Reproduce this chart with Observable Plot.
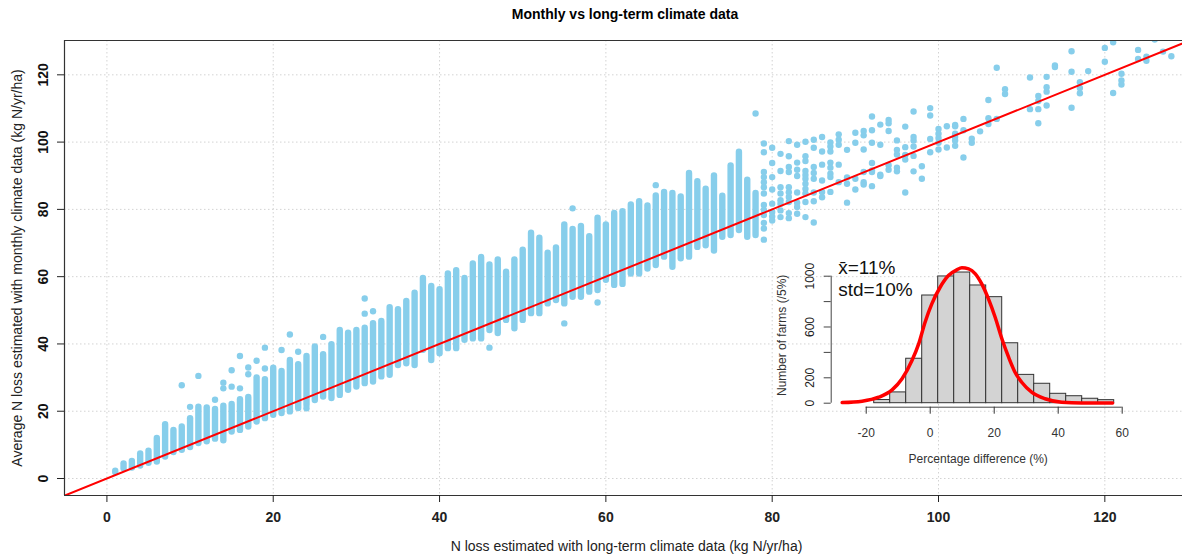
<!DOCTYPE html>
<html><head><meta charset="utf-8">
<script src="https://cdn.jsdelivr.net/npm/d3@7"></script>
<script src="https://cdn.jsdelivr.net/npm/@observablehq/plot@0.6"></script>
<style>
body{margin:0;background:#fff;font-family:"Liberation Sans",Arial,sans-serif;}
#wrap{position:relative;width:1182px;height:556px;overflow:hidden;}
#title{position:absolute;left:0;top:0;width:1250px;height:28px;line-height:28px;text-align:center;font-weight:bold;font-size:14px;color:#000;}
#main{position:absolute;left:0;top:28px;}
#inset{position:absolute;left:770px;top:250px;}
</style></head><body>
<div id="wrap"><div id="title">Monthly vs long-term climate data</div><div id="main"></div><div id="inset"></div></div>
<script>
// ---------- main scatter data ----------
const xTicks = [0, 20, 40, 60, 80, 100, 120];
const yTicks = [0, 20, 40, 60, 80, 100, 120];
// dense columns: x, lowest and highest point of the column
const stripX  = [1,2,3,4,5,6,7,8,9,10,11,12,13,14,15,16,17,18,19,20,21,22,23,24,25,26,27,28,29,30,31,32,33,34,35,36,37,38,39,40,41,42,43,44,45,46,47,48,49,50,51,52,53,54,55,56,57,58,59,60,61,62,63,64,65,66,67,68,69,70,71,72,73,74,75,76,77,78];
const stripLo = [1.8,2.9,3.1,3.7,4.5,4.9,6.4,7.7,8.4,9.2,10.4,10.9,11.7,11.2,13.8,14.3,15.3,16.8,17.8,18.8,19.3,19.8,20.8,21.8,23.2,24.2,23.8,24.7,26.2,27.2,28.2,28.7,30.2,30.7,33.6,34.1,33.6,38.1,35.1,37.1,38.6,38.6,41.1,41.5,41.5,44.0,43.1,47.0,44.5,47.0,49.0,49.0,51.9,52.9,51.9,53.9,53.9,55.4,55.9,58.9,57.4,57.7,60.8,60.8,62.3,63.3,65.8,62.8,65.3,65.8,68.7,69.2,67.6,71.7,72.2,73.7,71.7,72.2];
const stripHi = [2.2,4.3,5.1,7.3,8.1,11.9,16.0,14.3,15.3,17.8,21.2,21.0,20.5,21.5,22.0,23.4,24.1,29.9,29.4,32.8,31.8,35.1,33.8,36.3,39.1,36.8,39.8,44.0,43.2,44.0,44.7,46.0,46.7,50.8,50.2,52.6,55.1,59.5,57.1,56.1,60.8,61.8,59.5,63.8,65.7,63.5,65.0,61.3,65.0,67.9,72.9,71.4,67.0,68.5,75.4,74.0,74.9,71.9,77.4,75.4,78.8,79.3,81.3,82.3,81.0,84.0,85.0,84.7,83.7,90.7,88.2,86.0,89.9,83.9,92.9,97.0,88.7,84.7];
// isolated points beside the dense columns
const outX = [9,10,11,13,14,14,15,15,16,16,17,17,18,19,19,21,22,23,24,26,31,31,32,46,55,56,59,66,78];
const outY = [27.7,21.3,30.5,23.4,28.5,26.8,32.2,27.3,36.4,26.8,33.0,31.0,35.0,38.9,32.7,38.2,42.8,37.7,20.9,42.1,53.5,49.0,49.7,38.9,46.1,80.3,52.3,87.2,108.5];
// sparse columns (x, list of y)
const sparseCols = [
  [79,[99.6,97.0,91.1,89.6,88.1,86.6,84.7,81.3,79.8,78.3,76.0,74.3,71.0]],
  [80,[98.3,93.8,89.6,85.9,81.7,79.2,77.9,76.7]],
  [81,[96.5,91.4,86.6,84.7,82.7,81.7,79.7,77.7]],
  [82,[100.3,95.8,92.6,91.1,86.6,85.1,83.7,82.2,78.9,77.4]],
  [83,[99.2,93.9,91.8,89.9,85.0,82.0,80.7,78.7]],
  [84,[100.1,95.8,94.4,91.4,90.2,89.1,87.6,86.1,84.7,82.2,77.7]],
  [85,[100.7,98.3,92.6,90.8,89.1,85.0,82.4,76.1]],
  [86,[101.5,97.2,93.3,88.6,85.2,83.6]],
  [87,[99.9,98.7,97.2,93.9,92.4,90.6,89.6,85.2]],
  [88,[102.3,100.7,99.2,93.3,88.1]],
  [89,[97.7,89.5,87.6,82.0]],
  [90,[102.8,99.8,89.1,85.9]],
  [91,[103.3,102.0,97.8,91.1,88.1,87.4]],
  [92,[107.6,103.5,99.8,93.8,91.6,91.1,86.9]],
  [93,[105.2,99.2,90.3,89.9]],
  [94,[106.6,105.6,103.3,93.1,91.8]],
  [95,[100.5,97.7,96.3,92.4,91.3]],
  [96,[104.6,98.5,96.2,94.8,85.0]],
  [97,[109.1,101.5,100.5,98.7,95.9,91.3]],
  [98,[92.8,89.1]],
  [99,[110.1,107.9,100.9,97.0]],
  [100,[103.9,102.5,101.2,99.8,97.8]],
  [101,[104.7,98.4]],
  [102,[105.1,104.7,102.5,101.5,100.5,98.9]],
  [103,[106.9,103.5,95.4]],
  [104,[101.0,99.8]],
  [105,[103.2]],
  [106,[112.5,107.1,105.4]],
  [107,[122.1,106.9]],
  [108,[115.7,114.3]],
  [111,[119.2,109.8]],
  [112,[113.7,112.2,109.8,105.6]],
  [113,[119.4,116.3,115.0,110.9]],
  [114,[122.8,122.3]],
  [116,[127.0,120.9,110.2]],
  [117,[117.8,116.1,114.5]],
  [118,[121.1]],
  [120,[128.0,123.9]],
  [121,[129.7,114.6]],
  [122,[120.3,118.3,117.1]],
  [124,[127.4,124.7]],
  [125,[125.4,124.2]],
  [126,[130.5]],
  [127,[126.9]],
  [128,[125.5]]
];
const xTitle = "N loss estimated with long-term climate data (kg N/yr/ha)";
const yTitle = "Average N loss estimated with monthly climate data (kg N/yr/ha)";

// ---------- inset histogram data ----------
const binEdges = [-17.5,-12.5,-7.5,-2.5,2.5,7.5,12.5,17.5,22.5,27.5,32.5,37.5,42.5,47.5,52.5,57.5];
const binCounts = [25,85,350,848,998,1029,927,835,472,223,153,74,55,35,24];
const curveX = [-27.5,-21.3,-16.1,-11.9,-8.8,-5.7,-3.6,-1.6,0.5,3.1,5.7,8.3,9.9,12.0,14.1,16.1,18.2,20.3,22.4,24.5,26.5,28.6,31.7,35.9,41.1,47.3,57.0];
const curveY = [5,16,47,105,192,336,467,638,782,913,1005,1050,1066,1058,1019,940,822,677,507,362,244,165,87,35,8,2,2];
const ixTicks = [-20, 0, 20, 40, 60];
const iyTicks = [0, 200, 400, 600, 800, 1000];
const iyLabels = [0, 200, 600, 1000];
const statsText = ["x\u0304=11%", "std=10%"];
const ixTitle = "Percentage difference (%)";
const iyTitle = "Number of farms (/5%)";

// ---------- build ----------
const FONT = '"Liberation Sans", Arial, sans-serif';
const SKY = "#87CEEB";
const xDom = [-5.1, 129.34], yDom = [-5.05, 130.2];
const strips = stripX.map((x, i) => ({x, lo: stripLo[i], hi: stripHi[i]}));
const pts = outX.map((x, i) => ({x, y: outY[i]}))
  .concat(sparseCols.flatMap(([x, ys]) => ys.map(y => ({x, y}))));
const identity = [xDom[0] - 1, xDom[1] + 1];
const grid = {stroke: "#d3d3d3", strokeDasharray: "1.5,2.5", strokeWidth: 1};

const main = Plot.plot({
  width: 1182, height: 528,
  marginTop: 12, marginBottom: 61, marginLeft: 64, marginRight: 0,
  x: {domain: xDom}, y: {domain: yDom},
  style: {fontFamily: FONT, background: "transparent", overflow: "visible"},
  marks: [
    Plot.ruleX(xTicks, grid),
    Plot.ruleY(yTicks, grid),
    Plot.ruleX(strips, {x: "x", y1: "lo", y2: "hi", stroke: SKY, strokeWidth: 6.4, strokeLinecap: "round", clip: true}),
    Plot.dot(pts, {x: "x", y: "y", r: 3.2, fill: SKY, clip: true}),
    Plot.line(identity, {x: d => d, y: d => d, stroke: "red", strokeWidth: 2, clip: true}),
    Plot.ruleY([yDom[1]], {stroke: "#333", strokeWidth: 1.2}),
    Plot.ruleY([yDom[0]], {stroke: "#333", strokeWidth: 1.2}),
    Plot.ruleX([xDom[0]], {stroke: "#333", strokeWidth: 1.2}),
    Plot.axisX({ticks: xTicks, tickSize: 7, tickPadding: 10, fontSize: 14, fontWeight: "bold", label: null, tickFormat: d => String(d), color: "#222"}),
    Plot.axisY({ticks: yTicks, tickSize: 7, label: null, tickFormat: () => "", color: "#222"}),
    Plot.text(yTicks, {y: d => d, text: d => String(d), frameAnchor: "left", textAnchor: "middle", lineAnchor: "middle", dx: -20.7, rotate: -90, fontSize: 14, fontWeight: "bold", fill: "#111"}),
    Plot.text([xTitle], {text: d => d, frameAnchor: "bottom", textAnchor: "middle", lineAnchor: "middle", dy: 51, dx: 3, fontSize: 14, fill: "#222"}),
    Plot.text([yTitle], {text: d => d, frameAnchor: "left", textAnchor: "middle", lineAnchor: "middle", dx: -47, rotate: -90, fontSize: 14, fill: "#222"})
  ]
});
document.getElementById("main").appendChild(main);

const bins = binCounts.map((n, i) => ({x1: binEdges[i], x2: binEdges[i + 1], n}));
const curve = curveX.map((x, i) => ({x, y: curveY[i]}));
const ixDom = [-30.94, 62], iyDom = [-31.5, 1100];
const inset = Plot.plot({
  width: 380, height: 230,
  marginTop: 13, marginBottom: 73.3, marginLeft: 60.7, marginRight: 21.9,
  x: {domain: ixDom}, y: {domain: iyDom},
  style: {fontFamily: FONT, background: "transparent", overflow: "visible"},
  marks: [
    Plot.rectY(bins, {x1: "x1", x2: "x2", y1: 0, y2: "n", fill: "#d3d3d3", stroke: "#333", strokeWidth: 1}),
    Plot.line(curve, {x: "x", y: "y", stroke: "red", strokeWidth: 3.5, curve: "monotone-x"}),
    Plot.ruleX([ixDom[0]], {y1: iyTicks[0], y2: iyTicks[iyTicks.length - 1], stroke: "#444"}),
    Plot.ruleY([iyDom[0]], {x1: ixTicks[0], x2: ixTicks[ixTicks.length - 1], stroke: "#444"}),
    Plot.axisY({ticks: iyTicks, tickSize: 7, label: null, tickFormat: () => "", color: "#444"}),
    Plot.text(iyLabels, {y: d => d, text: d => String(d), frameAnchor: "left", textAnchor: "middle", lineAnchor: "middle", dx: -20.7, rotate: -90, fontSize: 12, fill: "#222"}),
    Plot.axisX({ticks: ixTicks, tickSize: 7, tickPadding: 14, fontSize: 12, label: null, tickFormat: d => String(d), color: "#333"}),
    Plot.text([ixTitle], {text: d => d, frameAnchor: "bottom", textAnchor: "middle", lineAnchor: "middle", dy: 51.6, dx: -1.7, fontSize: 12, fill: "#333"}),
    Plot.text([iyTitle], {text: d => d, frameAnchor: "left", textAnchor: "middle", lineAnchor: "middle", dx: -49, rotate: -90, fontSize: 12, fill: "#333"}),
    Plot.text([statsText[0]], {text: d => d, frameAnchor: "top-left", textAnchor: "start", lineAnchor: "middle", dx: 7, dy: 4, fontSize: 19, fill: "#111"}),
    Plot.text([statsText[1]], {text: d => d, frameAnchor: "top-left", textAnchor: "start", lineAnchor: "middle", dx: 7, dy: 26, fontSize: 19, fill: "#111"})
  ]
});
document.getElementById("inset").appendChild(inset);
</script>
</body></html>
